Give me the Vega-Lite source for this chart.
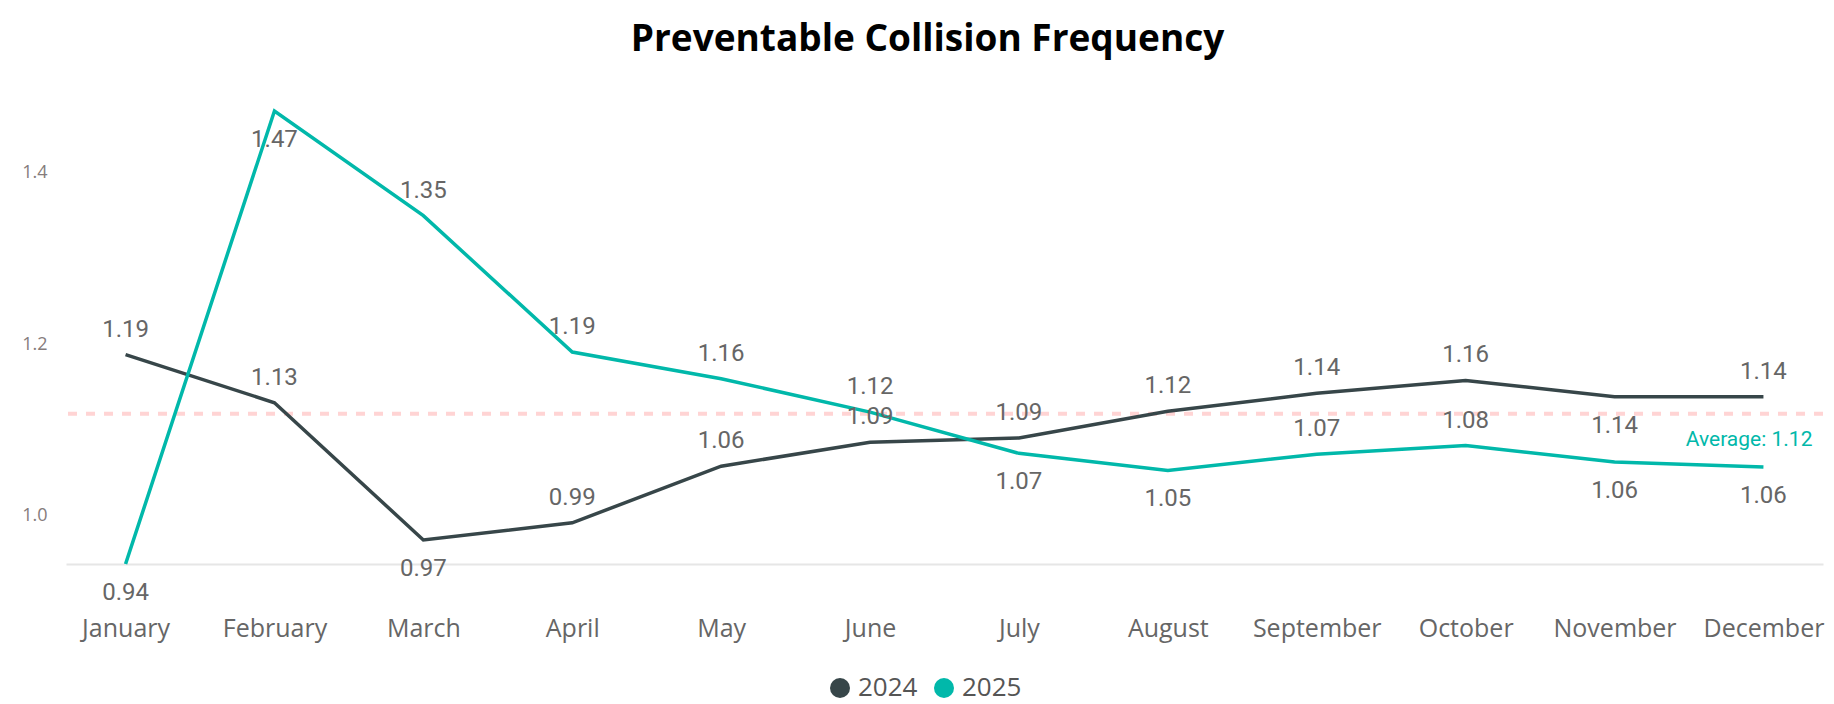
{
  "$schema": "https://vega.github.io/schema/vega-lite/v6.json",
  "autosize": "none",
  "width": 1757,
  "height": 477,
  "padding": {"left": 66, "top": 87, "right": 11, "bottom": 140},
  "background": "white",
  "title": {
    "text": "Preventable Collision Frequency",
    "font": "Open Sans",
    "fontSize": 37,
    "fontWeight": "bold",
    "color": "#000000",
    "anchor": "middle",
    "offset": 28,
    "dx": -17
  },
  "config": {
    "view": {"stroke": null},
    "axis": {"grid": false}
  },
  "data": {
    "values": [
      {"month": "January", "year": "2024", "value": 1.188},
      {"month": "February", "year": "2024", "value": 1.132},
      {"month": "March", "year": "2024", "value": 0.972},
      {"month": "April", "year": "2024", "value": 0.992},
      {"month": "May", "year": "2024", "value": 1.058},
      {"month": "June", "year": "2024", "value": 1.086},
      {"month": "July", "year": "2024", "value": 1.091},
      {"month": "August", "year": "2024", "value": 1.122},
      {"month": "September", "year": "2024", "value": 1.143},
      {"month": "October", "year": "2024", "value": 1.158},
      {"month": "November", "year": "2024", "value": 1.139},
      {"month": "December", "year": "2024", "value": 1.139},
      {"month": "January", "year": "2025", "value": 0.944},
      {"month": "February", "year": "2025", "value": 1.472},
      {"month": "March", "year": "2025", "value": 1.35},
      {"month": "April", "year": "2025", "value": 1.191},
      {"month": "May", "year": "2025", "value": 1.16},
      {"month": "June", "year": "2025", "value": 1.121},
      {"month": "July", "year": "2025", "value": 1.073},
      {"month": "August", "year": "2025", "value": 1.053},
      {"month": "September", "year": "2025", "value": 1.072},
      {"month": "October", "year": "2025", "value": 1.082},
      {"month": "November", "year": "2025", "value": 1.063},
      {"month": "December", "year": "2025", "value": 1.057}
    ]
  },
  "encoding": {
    "x": {
      "field": "month",
      "type": "ordinal",
      "sort": ["January","February","March","April","May","June","July","August","September","October","November","December"],
      "scale": {"type": "point", "padding": 0.4},
      "axis": {
        "title": null,
        "labelAngle": 0,
        "labelFont": "Open Sans",
        "labelFontSize": 25,
        "labelColor": "#666666",
        "ticks": false,
        "tickSize": 0,
        "labelPadding": 52,
        "domainColor": "#e6e6e6",
        "domainWidth": 2
      }
    },
    "y": {
      "field": "value",
      "type": "quantitative",
      "scale": {"domain": [0.944, 1.5], "nice": false, "zero": false},
      "axis": {
        "title": null,
        "values": [1.0, 1.2, 1.4],
        "format": ".1f",
        "labelFont": "Open Sans",
        "labelFontSize": 18,
        "labelColor": "#857c7c",
        "ticks": false,
        "tickSize": 0,
        "domain": false,
        "labelPadding": 19
      }
    }
  },
  "layer": [
    {
      "mark": {"type": "rule", "color": "#ffd4d4", "strokeDash": [9, 9], "strokeWidth": 4},
      "encoding": {
        "x": null,
        "y": {"aggregate": "mean", "field": "value", "type": "quantitative"}
      }
    },
    {
      "mark": {"type": "line", "strokeWidth": 3.5},
      "encoding": {
        "color": {
          "field": "year",
          "type": "nominal",
          "scale": {"domain": ["2024", "2025"], "range": ["#374649", "#01B8AA"]},
          "legend": {
            "title": null,
            "orient": "none",
            "legendX": 761,
            "legendY": 588,
            "direction": "horizontal",
            "symbolType": "circle",
            "symbolSize": 400,
            "symbolStrokeWidth": 0,
            "labelFont": "Open Sans",
            "labelFontSize": 26,
            "labelColor": "#555555",
            "labelOffset": 5,
            "columnPadding": 13,
            "encode": {
              "symbols": {"update": {"fill": {"scale": "color", "field": "value"}, "fillOpacity": {"value": 1}}}
            }
          }
        }
      }
    },
    {
      "transform": [
        {"filter": "!((datum.year == '2024' && (datum.month == 'March' || datum.month == 'November')) || (datum.year == '2025' && indexof(['January','February','July','August','November','December'], datum.month) >= 0))"}
      ],
      "mark": {"type": "text", "font": "Roboto", "fontSize": 24, "color": "#666666", "baseline": "middle", "dy": -25},
      "encoding": {
        "text": {"field": "value", "type": "quantitative", "format": ".2f"}
      }
    },
    {
      "transform": [
        {"filter": "(datum.year == '2024' && (datum.month == 'March' || datum.month == 'November')) || (datum.year == '2025' && indexof(['January','February','July','August','November','December'], datum.month) >= 0)"}
      ],
      "mark": {"type": "text", "font": "Roboto", "fontSize": 24, "color": "#666666", "baseline": "middle", "dy": 29},
      "encoding": {
        "text": {"field": "value", "type": "quantitative", "format": ".2f"}
      }
    },
    {
      "transform": [
        {"aggregate": [{"op": "mean", "field": "value", "as": "avg"}]},
        {"calculate": "'Average: ' + format(datum.avg, '.2f')", "as": "label"}
      ],
      "mark": {"type": "text", "font": "Roboto", "fontSize": 21, "color": "#01B8AA", "align": "right", "baseline": "middle", "dy": 26, "dx": 49},
      "encoding": {
        "x": {"datum": "December"},
        "y": {"field": "avg", "type": "quantitative"},
        "text": {"field": "label"}
      }
    }
  ]
}
